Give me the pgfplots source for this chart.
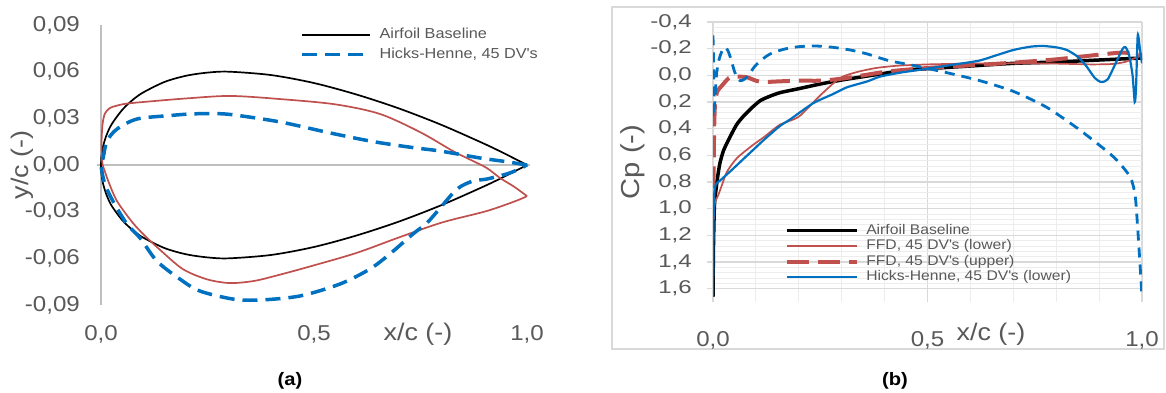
\documentclass[border=0pt]{standalone}
\usepackage{pgfplots}
\pgfplotsset{compat=1.18}
\usepackage{fontspec}
\setmainfont{Liberation Sans}[FakeStretch=1.12]
\newfontfamily\ryfont{Liberation Sans}[FakeStretch=1.3]
\definecolor{tg}{HTML}{595959}
\definecolor{cred}{HTML}{C0504D}
\definecolor{cblue}{HTML}{0070C0}
\definecolor{gmaj}{HTML}{D9D9D9}
\definecolor{gmin}{HTML}{EDEDED}
\definecolor{axg}{HTML}{BFBFBF}
\newcommand\fs[1]{\fontsize{#1}{#1}\selectfont}
\begin{document}
\begin{tikzpicture}[x=1pt,y=1pt]
\useasboundingbox (0,0) rectangle (1166,392);
\fill[white] (0,0) rectangle (1166,392);
\draw[gmaj, line width=1.3pt] (612,43) rectangle (1164,385);
\node[font=\bfseries\fs{18}] at (290,11) {(a)};
\node[font=\bfseries\fs{18}] at (895,11) {(b)};
% ---------------- left
\begin{axis}[at={(101pt,87pt)}, anchor=south west, scale only axis,
  width=426pt, height=280pt, xmin=0, xmax=1, ymin=-0.09, ymax=0.09,
  axis line style={draw=none}, clip=false, scaled ticks=false,
  xtick={0,0.5,1}, xticklabels={{0,0},{0,5},{1,0}},
  ytick={-0.09,-0.06,-0.03,0,0.03,0.06,0.09},
  yticklabels={{-0,09},{-0,06},{-0,03},{0,00},{0,03},{0,06},{0,09}},
  tick style={draw=none},
  ticklabel style={text=tg, font=\fs{21.5}},
  xticklabel style={anchor=base, inner sep=0pt, yshift=-35.5pt},
  yticklabel style={anchor=east, inner sep=0pt, xshift=-21pt},
  every axis x label/.style={at={(axis description cs:0.744,0)}, anchor=base, yshift=-35.5pt, font=\fs{24}, text=tg},
  every axis y label/.style={at={(axis description cs:-0.185,0.5)}, rotate=90, anchor=center, font=\fs{24}, text=tg},
  xlabel={x/c (-)}, ylabel={y/c (-)},
  legend cell align=left,
  legend image code/.code={\draw[#1] (0pt,0pt) -- (68pt,0pt);},
  legend style={at={(axis description cs:0.467,0.99)}, anchor=north west, draw=none, fill=none,
    inner sep=0pt, row sep=6pt, column sep=8pt, font=\fs{14.5}, text=tg,
    nodes={inner sep=0pt, text height=10.5pt, text depth=3pt}},
]
\draw[axg, line width=1.3pt] (axis cs:0,-0.09) -- (axis cs:0,0.09);
\draw[axg, line width=1.3pt] (axis cs:-0.01,0) -- (axis cs:1.007,0);
\addplot[black, line width=1.7pt, smooth, tension=0.5] coordinates {
(1,0) (0.95,0.0070) (0.9,0.0136) (0.8,0.0257) (0.7,0.0363) (0.6,0.0453) (0.5,0.0527) (0.4,0.0578) (0.3,0.0600) (0.25,0.0594) (0.2,0.0574) (0.15,0.0535) (0.1,0.0468) (0.075,0.0420) (0.05,0.0355) (0.025,0.0262) (0.0125,0.0189) (0.005,0.0122) (0.0025,0.0087) (0.001,0.0055) (0,0)
(0.001,-0.0055) (0.0025,-0.0087) (0.005,-0.0122) (0.0125,-0.0189) (0.025,-0.0262) (0.05,-0.0355) (0.075,-0.0420) (0.1,-0.0468) (0.15,-0.0535) (0.2,-0.0574) (0.25,-0.0594) (0.3,-0.0600) (0.4,-0.0578) (0.5,-0.0527) (0.6,-0.0453) (0.7,-0.0363) (0.8,-0.0257) (0.9,-0.0136) (0.95,-0.0070) (1,0)};
\addlegendentry{Airfoil Baseline}
\addplot[cred, line width=1.7pt, smooth, tension=0.5, forget plot] coordinates {
(1.0,-0.020) (0.97,-0.014) (0.937,-0.0084) (0.906,-0.002) (0.87,0.003) (0.826,0.009) (0.75,0.021) (0.655,0.0328) (0.55,0.039) (0.42,0.0424) (0.303,0.0444) (0.2,0.0428) (0.12,0.041) (0.061,0.0395) (0.035,0.038) (0.02,0.0365) (0.009,0.033) (0.004,0.027) (0.002,0.020) (0.001,0.012) (0.002,0.005) (0.004,0.0) (0.009,-0.004) (0.018,-0.011) (0.0376,-0.0232) (0.075,-0.0373) (0.105,-0.046) (0.138,-0.0544) (0.192,-0.0669) (0.249,-0.0735) (0.303,-0.0759) (0.36,-0.0745) (0.42,-0.0705) (0.5,-0.0645) (0.6,-0.0565) (0.7,-0.0465) (0.8,-0.037) (0.9,-0.030) (0.95,-0.0255) (0.984,-0.022) (1.0,-0.020)};
\addplot[cblue, line width=3.5pt, dash pattern=on 15pt off 8pt, smooth, tension=0.5] coordinates {
(1.0,0) (0.95,0.0022) (0.89,0.0045) (0.796,0.009) (0.732,0.0112) (0.64,0.015) (0.538,0.0206) (0.42,0.0277) (0.303,0.0325) (0.25,0.0330) (0.209,0.0328) (0.162,0.0318) (0.085,0.0296) (0.038,0.0232) (0.014,0.0154) (0.005,0.0045) (0,0)
(0.009,-0.0122) (0.028,-0.0232) (0.061,-0.038) (0.092,-0.047) (0.131,-0.0617) (0.185,-0.0733) (0.232,-0.081) (0.31,-0.0862) (0.373,-0.0868) (0.467,-0.0842) (0.561,-0.0765) (0.631,-0.0669) (0.678,-0.0572) (0.732,-0.0444) (0.765,-0.0373) (0.796,-0.0277) (0.836,-0.0154) (0.873,-0.0103) (0.906,-0.009) (0.96,-0.0051) (1.0,0)};
\addlegendentry{Hicks-Henne, 45 DV\textquotesingle s}
\end{axis}
% ---------------- right
\begin{axis}[at={(713pt,90pt)}, anchor=south west, scale only axis,
  width=429pt, height=280pt, xmin=0, xmax=1, ymin=-0.4, ymax=1.7, y dir=reverse,
  axis line style={draw=none}, scaled ticks=false,
  xtick={0,0.5,1}, xticklabels={{0,0},{0,5},{1,0}},
  ytick={-0.4,-0.2,0,0.2,0.4,0.6,0.8,1.0,1.2,1.4,1.6},
  yticklabels={{-0,4},{-0,2},{0,0},{0,2},{0,4},{0,6},{0,8},{1,0},{1,2},{1,4},{1,6}},
  minor x tick num=4, minor y tick num=4,
  grid=both, major grid style={gmaj, line width=1.3pt}, minor grid style={gmin, line width=1pt},
  tick pos=left, tick align=outside, major tick length=6pt, minor tick length=0pt,
  xtick style={draw=none}, ytick style={gmaj, line width=1.3pt},
  xticklabel style={text=tg, font=\fs{21.5}, anchor=base, inner sep=0pt, yshift=-38pt},
  yticklabel style={text=tg, font=\ryfont\fs{18.5}, anchor=east, inner sep=0pt, xshift=-15pt},
  every axis x label/.style={at={(axis description cs:0.648,0)}, anchor=base, yshift=-38pt, font=\fs{24}, text=tg},
  every axis y label/.style={at={(axis description cs:-0.186,0.5)}, rotate=90, anchor=center, font=\fs{26}, text=tg},
  xlabel={x/c (-)}, ylabel={Cp (-)},
  legend cell align=left,
  legend image code/.code={\draw[#1] (0pt,0pt) -- (70pt,0pt);},
  legend style={at={(axis description cs:0.168,0.279)}, anchor=north west, draw=none, fill=none,
    inner sep=0pt, row sep=2.2pt, column sep=7pt, font=\fs{14}, text=tg,
    nodes={inner sep=0pt, text height=10.3pt, text depth=3pt}},
]
\addplot[black, line width=3.5pt, smooth, tension=0.4] coordinates {
(0,1.66) (0.001,1.30) (0.003,1.0) (0.005,0.91) (0.01,0.78) (0.016,0.66) (0.025,0.56) (0.04,0.46) (0.055,0.37) (0.07,0.31) (0.09,0.245) (0.11,0.19) (0.13,0.16) (0.156,0.13) (0.2,0.10) (0.25,0.065) (0.3,0.035) (0.35,0.01) (0.39,-0.01) (0.45,-0.04) (0.5,-0.05) (0.6,-0.07) (0.7,-0.09) (0.8,-0.10) (0.9,-0.115) (1.0,-0.13)};
\addlegendentry{Airfoil Baseline}
\addplot[cred, line width=1.7pt, smooth, tension=0.4] coordinates {
(0,1.08) (0.002,1.0) (0.006,0.94) (0.012,0.90) (0.02,0.83) (0.033,0.72) (0.056,0.62) (0.09,0.53) (0.12,0.46) (0.156,0.37) (0.2,0.31) (0.25,0.15) (0.296,0.02) (0.336,-0.025) (0.38,-0.055) (0.43,-0.072) (0.5,-0.082) (0.6,-0.088) (0.7,-0.09) (0.8,-0.088) (0.88,-0.082) (0.93,-0.085) (0.96,-0.10) (0.98,-0.125) (1.0,-0.15)};
\addlegendentry{FFD, 45 DV\textquotesingle s (lower)}
\addplot[cred, line width=4pt, dash pattern=on 22pt off 9pt, smooth, tension=0.4] coordinates {
(0,1.08) (0.001,0.8) (0.002,0.55) (0.003,0.35) (0.005,0.2) (0.01,0.12) (0.02,0.08) (0.028,0.05) (0.037,0.02) (0.047,0.01) (0.065,0.01) (0.08,0.015) (0.1,0.04) (0.117,0.05) (0.156,0.045) (0.2,0.04) (0.25,0.04) (0.3,0.025) (0.35,0.0) (0.41,-0.03) (0.5,-0.055) (0.6,-0.075) (0.7,-0.095) (0.8,-0.12) (0.9,-0.155) (0.95,-0.17) (0.98,-0.165) (1.0,-0.15)};
\addlegendentry{FFD, 45 DV\textquotesingle s (upper)}
\addplot[cblue, line width=2.2pt, smooth, tension=0.4] coordinates {
(0,1.66) (0.001,1.2) (0.002,0.95) (0.004,0.85) (0.008,0.81) (0.016,0.79) (0.03,0.75) (0.047,0.70) (0.07,0.63) (0.09,0.57) (0.12,0.48) (0.156,0.38) (0.18,0.33) (0.233,0.21) (0.28,0.14) (0.312,0.09) (0.36,0.045) (0.389,0.01) (0.436,-0.02) (0.5,-0.05) (0.56,-0.08) (0.62,-0.11) (0.66,-0.15) (0.70,-0.19) (0.74,-0.215) (0.77,-0.22) (0.80,-0.21) (0.825,-0.19) (0.85,-0.14) (0.87,-0.07) (0.89,0.02) (0.905,0.05) (0.92,0.03) (0.94,-0.1) (0.955,-0.2) (0.962,-0.21) (0.97,-0.15) (0.978,0.0) (0.983,0.2) (0.986,0.1) (0.99,-0.3) (0.995,-0.2) (1.0,-0.09)};
\addlegendentry{Hicks-Henne, 45 DV\textquotesingle s (lower)}
\addplot[cblue, line width=2.8pt, dash pattern=on 10pt off 7pt, smooth, tension=0.4, forget plot] coordinates {
(0,-0.30) (0.001,-0.14) (0.002,0.05) (0.003,0.24) (0.005,0.15) (0.008,0.0) (0.012,-0.09) (0.016,-0.14) (0.022,-0.19) (0.028,-0.21) (0.034,-0.19) (0.04,-0.14) (0.05,-0.03) (0.057,0.02) (0.063,0.04) (0.07,0.035) (0.08,0.01) (0.098,-0.07) (0.115,-0.12) (0.133,-0.16) (0.164,-0.195) (0.2,-0.215) (0.24,-0.22) (0.28,-0.21) (0.32,-0.19) (0.36,-0.16) (0.41,-0.11) (0.466,-0.075) (0.545,-0.02) (0.622,0.04) (0.70,0.12) (0.778,0.24) (0.855,0.41) (0.933,0.61) (0.972,0.76) (0.984,0.90) (0.99,1.15) (0.995,1.4) (1.0,1.66)};
\end{axis}
\end{tikzpicture}
\end{document}
